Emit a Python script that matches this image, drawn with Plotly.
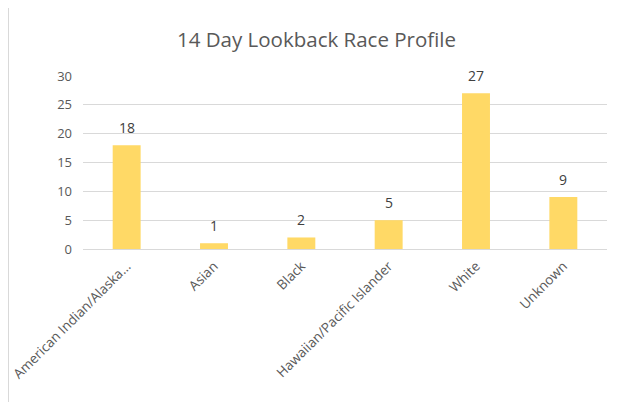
import plotly.graph_objects as go

categories = ["American Indian/Alaska...", "Asian", "Black", "Hawaiian/Pacific Islander", "White", "Unknown"]
values = [18, 1, 2, 5, 27, 9]
y_ticks = [0, 5, 10, 15, 20, 25, 30]

# page body has an 8px margin, so figure coords = screen coords - 8
OFF = 8
W, H = 626 - OFF, 402 - OFF
L, R, T, B = 83 - OFF, 19, 76 - OFF, 153
pw, ph = W - L - R, H - T - B

def px_x(sx):
    return (sx - OFF - L) / pw

def px_y(sy):
    return (H - B - (sy - OFF)) / ph

fig = go.Figure(go.Bar(
    x=categories, y=values,
    marker=dict(color="#FFD966", line=dict(width=0)),
    width=0.32, hoverinfo="x+y",
))

for c, v in zip(categories, values):
    fig.add_annotation(x=c, y=v, text=str(v), showarrow=False, yshift=18,
                       yanchor="middle", xanchor="center",
                       font=dict(family="Open Sans", size=14, color="#404040"))

fig.update_layout(
    width=W, height=H,
    margin=dict(l=L, r=R, t=T, b=B, autoexpand=False),
    paper_bgcolor="white", plot_bgcolor="white",
    title=dict(text="14 Day Lookback Race Profile", xref="container", x=(316.5 - OFF) / W,
               xanchor="center", yref="container", y=1 - (40 - OFF) / H, yanchor="middle",
               font=dict(family="Open Sans", size=20.5, color="#595959")),
    showlegend=False,
    xaxis=dict(tickangle=-45, tickfont=dict(family="Open Sans", size=13.5, color="#595959"),
               showline=True, linecolor="#d9d9d9", linewidth=1, ticks="", showgrid=False,
               automargin=False, ticklabelstandoff=3),
    yaxis=dict(range=[0, 30], tickvals=y_ticks, showgrid=True, gridcolor="#d9d9d9",
               zeroline=False, tickfont=dict(family="Open Sans", size=13, color="#595959"),
               ticks="", ticklen=0, automargin=False, ticklabelstandoff=10),
    shapes=[
        dict(type="rect", xref="paper", yref="paper",
             x0=px_x(8.5), x1=px_x(623.5), y0=px_y(420), y1=px_y(7.5),
             line=dict(color="#d9d9d9", width=1), fillcolor="rgba(0,0,0,0)", layer="below"),
    ],
)

fig.write_html("out.html")
